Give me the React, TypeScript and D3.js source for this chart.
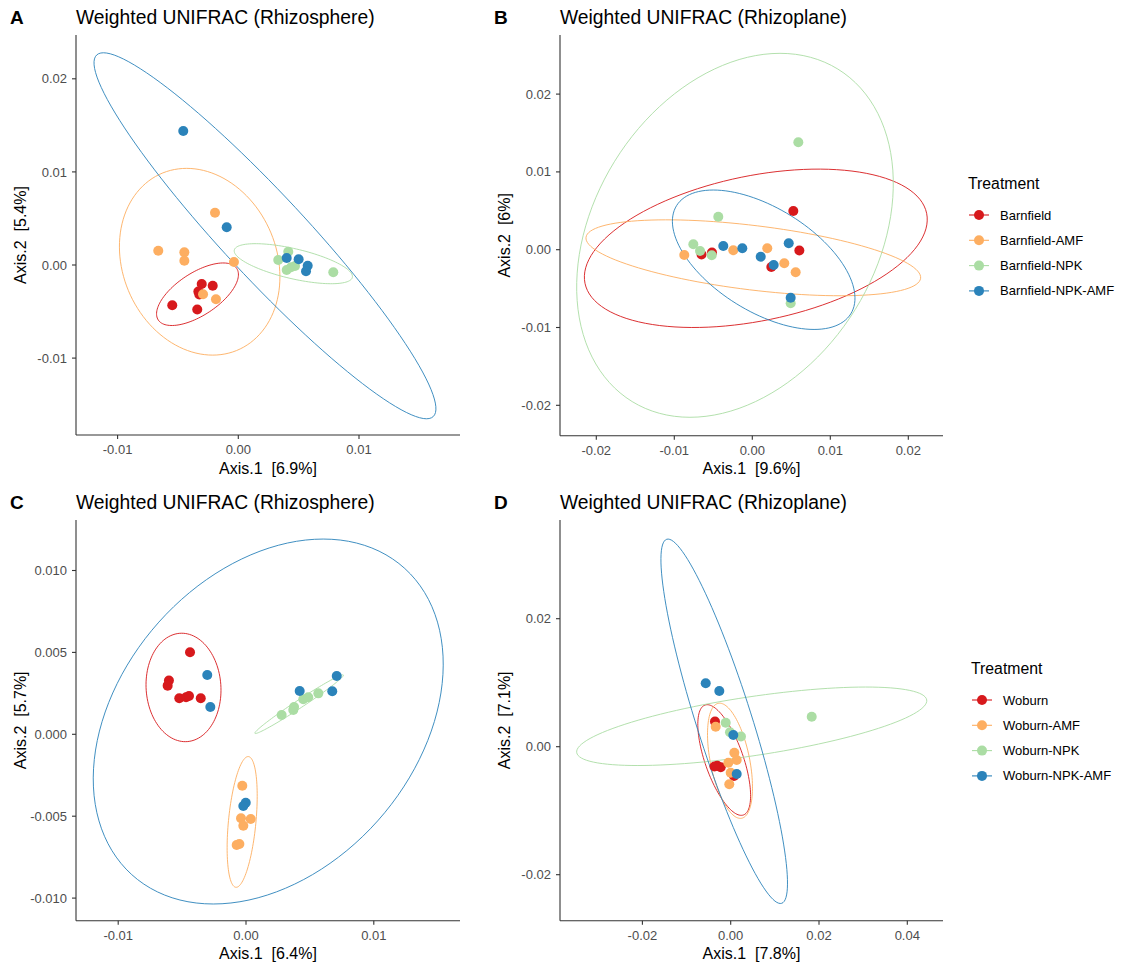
import React from 'react';
import * as d3 from 'd3';

// Spectral 4-class palette, one colour per treatment
const PALETTE = ['#d7191c', '#fdae61', '#abdda4', '#2b83ba'];
const FONT = '"Liberation Sans", Arial, Helvetica, sans-serif';

const barnfieldGroups = ['Barnfield', 'Barnfield-AMF', 'Barnfield-NPK', 'Barnfield-NPK-AMF'];
const woburnGroups = ['Woburn', 'Woburn-AMF', 'Woburn-NPK', 'Woburn-NPK-AMF'];

// Sample scores: [treatment index, Axis.1, Axis.2]
const barnfieldRhizosphere: number[][] = [
  [0, -0.00303, -0.00204], [0, -0.00212, -0.00222], [0, -0.00331, -0.00285],
  [0, -0.00323, -0.00317], [0, -0.00547, -0.00433], [0, -0.0034, -0.00478],
  [1, -0.00193, 0.00562], [1, -0.00663, 0.00154], [1, -0.00447, 0.00136],
  [1, -0.00447, 0.00046], [1, -0.00036, 0.00032], [1, -0.00292, -0.00315],
  [1, -0.00185, -0.00368],
  [2, 0.00414, 0.00143], [2, 0.00331, 0.00054], [2, 0.00437, -0.00025],
  [2, 0.00401, -0.00054], [2, 0.0047, -0.00011], [2, 0.00787, -0.00078],
  [3, -0.00456, 0.01439], [3, -0.00096, 0.00405], [3, 0.00401, 0.00075],
  [3, 0.005, 0.00061], [3, 0.00575, -0.00008], [3, 0.00561, -0.00068],
];

const barnfieldRhizoplane: number[][] = [
  [0, 0.00526, 0.00497], [0, 0.00603, -0.0001], [0, -0.00651, -0.00062],
  [0, -0.00517, -0.00036], [0, 0.00244, -0.00222],
  [1, -0.00872, -0.00068], [1, -0.00244, -0.00008], [1, 0.00192, 0.00018],
  [1, 0.0041, -0.00175], [1, 0.00556, -0.0029],
  [2, -0.00436, 0.00424], [2, 0.0059, 0.0138], [2, -0.00756, 0.00069],
  [2, -0.0067, -0.00017], [2, -0.0052, -0.00072], [2, 0.00492, -0.00689],
  [3, -0.00372, 0.00048], [3, -0.00128, 0.00018], [3, 0.00108, -0.0009],
  [3, 0.00274, -0.00197], [3, 0.00467, 0.00082], [3, 0.00492, -0.00617],
];

const woburnRhizosphere: number[][] = [
  [0, -0.00438, 0.00501], [0, -0.00603, 0.00328], [0, -0.00613, 0.00297],
  [0, -0.00522, 0.0022], [0, -0.00469, 0.00226], [0, -0.00446, 0.00234],
  [0, -0.00354, 0.0022],
  [1, -0.00029, -0.00314], [1, -0.00039, -0.00513], [1, 0.00037, -0.00517],
  [1, -0.00021, -0.00558], [1, -0.00073, -0.00676], [1, -0.00052, -0.0067],
  [2, 0.00279, 0.00118], [2, 0.0037, 0.00148], [2, 0.00376, 0.00167],
  [2, 0.00448, 0.00214], [2, 0.00487, 0.00226], [2, 0.00566, 0.0025],
  [3, -0.00303, 0.00362], [3, -0.00279, 0.00167], [3, 0.0042, 0.00264],
  [3, 0.00675, 0.00263], [3, 0.0071, 0.00356], [3, -0.00002, -0.00418],
  [3, -0.00021, -0.00438],
];

const woburnRhizoplane: number[][] = [
  [0, -0.00356, 0.00394], [0, -0.00304, -0.00297], [0, -0.00226, -0.00322],
  [0, -0.00367, -0.00309], [0, 0.00075, -0.00458],
  [1, -0.0034, 0.00313], [1, 0.00082, -0.00094], [1, 0.00136, -0.00208],
  [1, -0.00054, -0.0025], [1, 0, -0.00406], [1, -0.00032, -0.00588],
  [2, -0.00113, 0.00375], [2, -0.00016, 0.00225], [2, 0.00233, 0.00159],
  [2, 0.01835, 0.00469],
  [3, -0.00566, 0.00991], [3, -0.00258, 0.0087], [3, 0.00059, 0.00183],
  [3, 0.00136, -0.00427],
];

// Confidence ellipses: [treatment, centre x, centre y, semi-diameter A (x, y), conjugate semi-diameter B (x, y)]
const barnfieldRhizosphereEllipses: number[][] = [
  [0, -0.00338, -0.00314, 0.00325, 0.00277, 0.00097, -0.0019],
  [1, -0.0032, 0.00035, -0.00108, 0.01003, 0.00656, 0],
  [2, 0.00456, 0.00014, 0.00489, -0.00147, -0.00028, -0.00157],
  [3, 0.00221, 0.00314, 0.01394, -0.01942, 0.00251, 0.00304],
];
const barnfieldRhizoplaneEllipses: number[][] = [
  [0, 0.00045, 0.00018, 0.0219, 0.0045, 0.00187, -0.00913],
  [1, 0.00013, -0.00104, 0.02145, -0.00263, -0.0005, -0.00411],
  [2, -0.00222, 0.00185, 0.00577, 0.02339, 0.01946, 0],
  [3, 0.00146, -0.00129, -0.00646, 0.00896, 0.00976, 0],
];
const woburnRhizosphereEllipses: number[][] = [
  [0, -0.00489, 0.00286, -0.00014, 0.00331, 0.00293, 0],
  [1, -0.0003, -0.00535, 0.00049, 0.00399, 0.00107, -0.00008],
  [2, 0.00416, 0.00184, 0.00346, 0.00178, 0.00017, -0.0002],
  [3, 0.00174, 0.00078, 0.0043, 0.01114, 0.013, 0],
];
const woburnRhizoplaneEllipses: number[][] = [
  [0, -0.00147, -0.00208, -0.00435, 0.00859, 0.0041, 0.00098],
  [1, -0.00016, -0.0022, -0.00265, 0.00898, 0.00435, 0.00061],
  [2, 0.00476, 0.00319, 0.03964, 0.00411, 0.001, -0.00455],
  [3, -0.00147, 0.00397, -0.01302, 0.02844, 0.006, 0.00131],
];

// Tick values
const ticksA = { x: [-0.01, 0, 0.01], y: [-0.01, 0, 0.01, 0.02] };
const ticksB = { x: [-0.02, -0.01, 0, 0.01, 0.02], y: [-0.02, -0.01, 0, 0.01, 0.02] };
const ticksC = { x: [-0.01, 0, 0.01], y: [-0.01, -0.005, 0, 0.005, 0.01] };
const ticksD = { x: [-0.02, 0, 0.02, 0.04], y: [-0.02, 0, 0.02] };

const fmt = (digits: number) => (v: number) => (v === 0 ? (0).toFixed(digits) : v.toFixed(digits));

type PanelProps = {
  tag: string;
  title: string;
  left: number;
  top: number;
  width: number;
  height: number;
  xDomain: [number, number];
  yDomain: [number, number];
  xTicks: number[];
  yTicks: number[];
  xDigits: number;
  yDigits: number;
  xLabel: string;
  yLabel: string;
  points: number[][];
  ellipses: number[][];
};

function Panel(p: PanelProps) {
  const x = d3.scaleLinear().domain(p.xDomain).range([p.left, p.left + p.width]);
  const y = d3.scaleLinear().domain(p.yDomain).range([p.top + p.height, p.top]);
  const bottom = p.top + p.height;
  const line = d3.line<[number, number]>().x(d => x(d[0])).y(d => y(d[1])).curve(d3.curveLinearClosed);
  const ts = d3.range(0, 120).map(i => (i / 120) * Math.PI * 2);
  const xf = fmt(p.xDigits);
  const yf = fmt(p.yDigits);
  const tagX = p.left - 66;
  return (
    <g>
      <text x={tagX} y={p.top - 11} fontFamily={FONT} fontWeight="bold" fontSize={19} fill="#000">{p.tag}</text>
      <text x={p.left} y={p.top - 11} fontFamily={FONT} fontSize={19.3} fill="#000">{p.title}</text>
      {/* ellipses */}
      {p.ellipses.map((e, i) => {
        const [g, cx, cy, ax, ay, bx, by] = e;
        const pts = ts.map(t => [cx + ax * Math.cos(t) + bx * Math.sin(t), cy + ay * Math.cos(t) + by * Math.sin(t)] as [number, number]);
        return <path key={'e' + i} d={line(pts) || ''} fill="none" stroke={PALETTE[g]} strokeWidth={1} strokeOpacity={0.9} />;
      })}
      {/* points */}
      {p.points.map((d, i) => (
        <circle key={'p' + i} cx={x(d[1])} cy={y(d[2])} r={5} fill={PALETTE[d[0]]} />
      ))}
      {/* axes */}
      <line x1={p.left} x2={p.left + p.width} y1={bottom} y2={bottom} stroke="#333" strokeWidth={1.1} />
      <line x1={p.left} x2={p.left} y1={p.top} y2={bottom} stroke="#333" strokeWidth={1.1} />
      {p.xTicks.map(v => (
        <g key={'xt' + v}>
          <line x1={x(v)} x2={x(v)} y1={bottom} y2={bottom + 4} stroke="#333" strokeWidth={1.1} />
          <text x={x(v)} y={bottom + 19} textAnchor="middle" fontFamily={FONT} fontSize={13} fill="#4d4d4d">{xf(v)}</text>
        </g>
      ))}
      {p.yTicks.map(v => (
        <g key={'yt' + v}>
          <line x1={p.left - 4} x2={p.left} y1={y(v)} y2={y(v)} stroke="#333" strokeWidth={1.1} />
          <text x={p.left - 9} y={y(v) + 4.6} textAnchor="end" fontFamily={FONT} fontSize={13} fill="#4d4d4d">{yf(v)}</text>
        </g>
      ))}
      <text x={p.left + p.width / 2} y={bottom + 38.5} textAnchor="middle" fontFamily={FONT} fontSize={16} fill="#000" style={{ whiteSpace: 'pre' }}>{p.xLabel}</text>
      <text transform={`translate(${p.left - 50.5},${p.top + p.height / 2}) rotate(-90)`} textAnchor="middle" fontFamily={FONT} fontSize={16} fill="#000" style={{ whiteSpace: 'pre' }}>{p.yLabel}</text>
    </g>
  );
}

function Legend({ left, top, groups }: { left: number; top: number; groups: string[] }) {
  return (
    <g>
      <text x={left} y={top} fontFamily={FONT} fontSize={15.8} fill="#000">Treatment</text>
      {groups.map((g, i) => {
        const cy = top + 26 + i * 25.3;
        return (
          <g key={g}>
            <line x1={left + 1} x2={left + 21} y1={cy} y2={cy} stroke={PALETTE[i]} strokeWidth={1.1} />
            <circle cx={left + 11} cy={cy} r={5} fill={PALETTE[i]} />
            <text x={left + 32} y={cy + 4.5} fontFamily={FONT} fontSize={13} fill="#000">{g}</text>
          </g>
        );
      })}
    </g>
  );
}

export default function App() {
  return (
    <svg width={1121} height={969} style={{ position: 'absolute', left: 0, top: 0, background: '#fff' }}>
      <rect width={1121} height={969} fill="#fff" />
      <Panel tag="A" title="Weighted UNIFRAC (Rhizosphere)" left={76} top={35} width={384} height={400}
        xDomain={[-0.013446, 0.018368]} yDomain={[-0.01826, 0.024705]} xTicks={ticksA.x} yTicks={ticksA.y}
        xDigits={2} yDigits={2} xLabel="Axis.1  [6.9%]" yLabel="Axis.2  [5.4%]"
        points={barnfieldRhizosphere} ellipses={barnfieldRhizosphereEllipses} />
      <Panel tag="B" title="Weighted UNIFRAC (Rhizoplane)" left={560} top={35} width={383} height={400.7}
        xDomain={[-0.024654, 0.024449]} yDomain={[-0.023907, 0.027596]} xTicks={ticksB.x} yTicks={ticksB.y}
        xDigits={2} yDigits={2} xLabel="Axis.1  [9.6%]" yLabel="Axis.2  [6%]"
        points={barnfieldRhizoplane} ellipses={barnfieldRhizoplaneEllipses} />
      <Panel tag="C" title="Weighted UNIFRAC (Rhizosphere)" left={76} top={520} width={384} height={400.7}
        xDomain={[-0.013302, 0.016745]} yDomain={[-0.01138, 0.013083]} xTicks={ticksC.x} yTicks={ticksC.y}
        xDigits={2} yDigits={3} xLabel="Axis.1  [6.4%]" yLabel="Axis.2  [5.7%]"
        points={woburnRhizosphere} ellipses={woburnRhizosphereEllipses} />
      <Panel tag="D" title="Weighted UNIFRAC (Rhizoplane)" left={560} top={520} width={383} height={400.7}
        xDomain={[-0.038664, 0.048086]} yDomain={[-0.027188, 0.035422]} xTicks={ticksD.x} yTicks={ticksD.y}
        xDigits={2} yDigits={2} xLabel="Axis.1  [7.8%]" yLabel="Axis.2  [7.1%]"
        points={woburnRhizoplane} ellipses={woburnRhizoplaneEllipses} />
      <Legend left={968} top={189} groups={barnfieldGroups} />
      <Legend left={971} top={674} groups={woburnGroups} />
    </svg>
  );
}
